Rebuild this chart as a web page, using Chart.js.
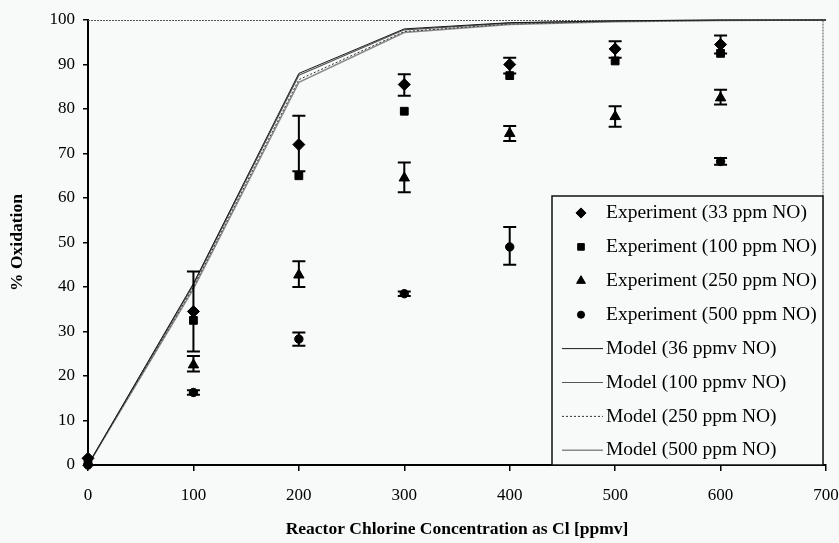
<!DOCTYPE html>
<html>
<head>
<meta charset="utf-8">
<script src="https://cdn.jsdelivr.net/npm/chart.js@4/dist/chart.umd.min.js"></script>
<style>
  html, body { margin: 0; padding: 0; background: #f8f9f9; }
  #wrap { width: 839px; height: 543px; }
</style>
</head>
<body>
<div id="wrap"><canvas id="oxChart" width="839" height="543"></canvas></div>
<script>
// Chlorine concentration (ppmv as Cl) for the measurements
const expConc = [0, 100, 200, 300, 400, 500, 600];
const exp500Conc = [0, 100, 200, 300, 400, 600];
const modelConc = [0, 100, 200, 300, 400, 500, 600, 700];

// Measured % oxidation with error bar limits
const exp33 = [1.5, 34.5, 72, 85.5, 90, 93.5, 94.5];
const exp33Low = [null, 25.5, 66, 83, 88, 91.5, 92.5];
const exp33High = [null, 43.5, 78.5, 87.8, 91.5, 95.2, 96.5];

const exp100 = [1, 32.5, 65, 79.5, 87.5, 90.8, 92.5];

const exp250 = [0.5, 22.5, 42.7, 64.5, 74.5, 78.3, 82.5];
const exp250Low = [null, 21, 40, 61.3, 72.8, 76, 81];
const exp250High = [null, 24.5, 45.8, 68, 76.2, 80.6, 84.3];

const exp500 = [0, 16.3, 28.3, 38.5, 49, 68.2];
const exp500Low = [null, 15.8, 26.8, 38, 45, 67.5];
const exp500High = [null, 16.8, 29.8, 39, 53.5, 69];

// Model predictions
const model36 = [0, 40.8, 88, 98, 99.4, 99.8, 100, 100];
const model100 = [0, 40.5, 87.6, 97.8, 99.3, 99.8, 100, 100];
const model250 = [0, 40, 86.6, 97.4, 99.1, 99.7, 99.9, 100];
const model500 = [0, 39.6, 86, 97.2, 99, 99.6, 99.9, 100];

const xTicks = [0, 100, 200, 300, 400, 500, 600, 700];
const yTicks = [0, 10, 20, 30, 40, 50, 60, 70, 80, 90, 100];

const serif = "'Liberation Serif', 'Times New Roman', serif";
const pts = (xs, ys) => xs.map((x, i) => ({ x: x, y: ys[i] }));

function expSet(label, xs, ys, style, radius, low, high) {
    return {
        label: label,
        data: pts(xs, ys),
        showLine: false,
        pointStyle: style,
        pointRadius: radius,
        pointBackgroundColor: '#000',
        pointBorderColor: '#000',
        pointBorderWidth: 1,
        errLow: low,
        errHigh: high,
        clip: false
    };
}

function modelSet(label, ys, color, width, dash) {
    return {
        label: label,
        data: pts(modelConc, ys),
        showLine: true,
        borderColor: color,
        borderWidth: width,
        borderDash: dash,
        pointRadius: 0,
        fill: false,
        tension: 0,
        clip: false
    };
}

// Vertical error bars with caps, placed through the chart scales
const errorBars = {
    id: 'errorBars',
    afterDatasetsDraw(chart) {
        const { ctx, scales: { x, y } } = chart;
        ctx.save();
        ctx.strokeStyle = '#000';
        ctx.lineWidth = 2;
        chart.data.datasets.forEach(ds => {
            if (!ds.errLow) return;
            ds.data.forEach((p, i) => {
                const lo = ds.errLow[i], hi = ds.errHigh[i];
                if (lo == null || hi == null) return;
                const px = x.getPixelForValue(p.x);
                const y0 = y.getPixelForValue(lo);
                const y1 = y.getPixelForValue(hi);
                ctx.beginPath();
                ctx.moveTo(px, y0); ctx.lineTo(px, y1);
                ctx.moveTo(px - 6.5, y0); ctx.lineTo(px + 6.5, y0);
                ctx.moveTo(px - 6.5, y1); ctx.lineTo(px + 6.5, y1);
                ctx.stroke();
            });
        });
        ctx.restore();
    }
};

// Dotted frame on the top and right of the plot
const plotFrame = {
    id: 'plotFrame',
    beforeDatasetsDraw(chart) {
        const { ctx, chartArea: a } = chart;
        ctx.save();
        ctx.strokeStyle = '#555';
        ctx.lineWidth = 1;
        ctx.setLineDash([2, 1]);
        ctx.beginPath();
        ctx.moveTo(a.left, a.top + 0.5);
        ctx.lineTo(a.right - 3, a.top + 0.5);
        ctx.lineTo(a.right - 3, a.bottom);
        ctx.stroke();
        ctx.restore();
    }
};

// Boxed legend inside the lower right corner
const boxLegend = {
    id: 'boxLegend',
    afterDraw(chart) {
        const { ctx, chartArea: a } = chart;
        const left = 552, right = a.right - 3, top = 196, bottom = a.bottom;
        ctx.save();
        ctx.fillStyle = '#f8f9f9';
        ctx.fillRect(left, top, right - left, bottom - top);
        ctx.strokeStyle = '#111';
        ctx.lineWidth = 1.5;
        ctx.strokeRect(left, top, right - left, bottom - top);

        const rowH = 33.9;
        ctx.font = '19.5px ' + serif;
        ctx.textBaseline = 'middle';
        ctx.textAlign = 'left';
        chart.data.datasets.forEach((ds, i) => {
            const cy = top + 17 + i * rowH;
            if (ds.showLine) {
                ctx.save();
                ctx.strokeStyle = ds.borderColor;
                ctx.lineWidth = ds.borderWidth;
                ctx.setLineDash(ds.borderDash || []);
                ctx.beginPath();
                ctx.moveTo(562, cy);
                ctx.lineTo(603, cy);
                ctx.stroke();
                ctx.restore();
            } else {
                ctx.fillStyle = '#000';
                ctx.strokeStyle = '#000';
                ctx.lineWidth = 1;
                Chart.helpers.drawPoint(ctx, {
                    pointStyle: ds.pointStyle,
                    radius: ds.pointRadius * 0.85,
                    rotation: 0,
                    borderWidth: 1
                }, 581, cy);
            }
            ctx.fillStyle = '#000';
            ctx.fillText(ds.label, 606, cy);
        });
        ctx.restore();
    }
};

const canvasBg = {
    id: 'canvasBg',
    beforeDraw(chart) {
        const { ctx, width, height } = chart;
        ctx.save();
        ctx.fillStyle = '#f8f9f9';
        ctx.fillRect(0, 0, width, height);
        ctx.restore();
    }
};

new Chart(document.getElementById('oxChart'), {
    type: 'scatter',
    data: {
        datasets: [
            expSet('Experiment (33 ppm NO)', expConc, exp33, 'rectRot', 6, exp33Low, exp33High),
            expSet('Experiment (100 ppm NO)', expConc, exp100, 'rect', 5.5, null, null),
            expSet('Experiment (250 ppm NO)', expConc, exp250, 'triangle', 6, exp250Low, exp250High),
            expSet('Experiment (500 ppm NO)', exp500Conc, exp500, 'circle', 4.2, exp500Low, exp500High),
            modelSet('Model (36 ppmv NO)', model36, '#1a1a1a', 1, []),
            modelSet('Model (100 ppmv NO)', model100, '#555', 1.2, []),
            modelSet('Model (250 ppm NO)', model250, '#333', 1, [2, 2]),
            modelSet('Model (500 ppm NO)', model500, '#8a8a8a', 1.5, [])
        ]
    },
    options: {
        responsive: false,
        animation: false,
        layout: { padding: { top: 20, right: 0, bottom: 0, left: 0 } },
        plugins: {
            legend: { display: false },
            tooltip: { enabled: false }
        },
        scales: {
            x: {
                type: 'linear',
                min: 0,
                max: 700,
                afterFit: s => { s.height = 78; s.paddingRight = 13; },
                afterBuildTicks: s => { s.ticks = xTicks.map(v => ({ value: v })); },
                grid: { drawOnChartArea: false, drawTicks: true, tickLength: 6, color: '#000', lineWidth: 1.5 },
                border: { color: '#000', width: 2 },
                ticks: { color: '#000', padding: 14, font: { family: serif, size: 17 } },
                title: {
                    display: true,
                    text: 'Reactor Chlorine Concentration as Cl [ppmv]',
                    color: '#000',
                    font: { family: serif, size: 17.5, weight: 'bold' },
                    padding: { top: 4, bottom: 3 }
                }
            },
            y: {
                type: 'linear',
                min: 0,
                max: 100,
                afterFit: s => { s.width = 88; },
                afterBuildTicks: s => { s.ticks = yTicks.map(v => ({ value: v })); },
                grid: { drawOnChartArea: false, drawTicks: true, tickLength: 5, color: '#000', lineWidth: 1.5 },
                border: { color: '#000', width: 2 },
                ticks: { color: '#000', padding: 8, font: { family: serif, size: 17 } },
                title: {
                    display: true,
                    text: '% Oxidation',
                    color: '#000',
                    font: { family: serif, size: 17.5, weight: 'bold' },
                    padding: { top: 7, bottom: 0 }
                }
            }
        }
    },
    plugins: [canvasBg, plotFrame, errorBars, boxLegend]
});
</script>
</body>
</html>
